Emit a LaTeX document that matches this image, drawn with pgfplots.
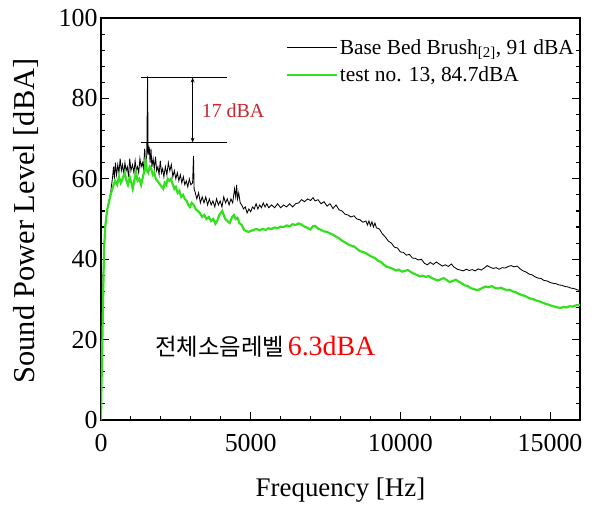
\documentclass[border=0pt]{standalone}
\usepackage{pgfplots}
\pgfplotsset{compat=1.18}
\usepackage{fontspec}
\setmainfont{Liberation Serif}
\newfontfamily\kr{Noto Sans CJK KR}
\usepackage{xcolor}
\definecolor{lgreen}{HTML}{33E01E}
\definecolor{annred}{HTML}{C8282D}
\usetikzlibrary{arrows.meta}

\begin{document}
\begin{tikzpicture}
\begin{axis}[
  scale only axis,
  width=479bp, height=402bp,
  xmin=0, xmax=16000, ymin=0, ymax=100,
  xtick={0,5000,10000,15000},
  ytick={0,20,40,60,80,100},
  minor x tick num=4, minor y tick num=4,
  tick align=inside,
  xtick pos=lower, ytick pos=both,
  major tick length=8bp, minor tick length=4.5bp,
  axis line style={line width=1.4pt},
  every tick/.style={line width=1.1pt, black},
  scaled x ticks=false,
  /pgf/number format/assume math mode=true,
  xticklabel style={/pgf/number format/1000 sep={}, yshift=-11bp},
  tick label style={font=\fontsize{26}{28}\selectfont},
  xlabel={Frequency [Hz]},
  ylabel={Sound Power Level [dBA]},
  xlabel style={font=\fontsize{27}{29}\selectfont, at={(rel axis cs:0.5,0)}, anchor=center, yshift=-70bp},
  ylabel style={font=\fontsize{30.5}{32}\selectfont, at={(rel axis cs:0,0.495)}, anchor=center, yshift=75bp},
  legend style={at={(rel axis cs:1,1)}, anchor=north east, xshift=-1bp, yshift=-17bp,
    draw=none, fill=none, font=\fontsize{21.5}{23}\selectfont, row sep=7bp},
  legend cell align=left,
  legend image code/.code={\draw[#1] (0cm,0cm) -- (1.76cm,0cm);},
]
\coordinate (O) at (rel axis cs:0,0);
\coordinate (T) at (rel axis cs:1,1);
\addplot[black, line width=0.85pt] coordinates {
(0,0) (25,15) (50,30) (80,38) (120,45) (170,50) (220,53) (280,55) (330,57) (380,60)
(420,63) (450,60) (480,64) (520,61) (560,63.5) (600,61.5) (640,65) (680,62) (720,63.5)
(760,61) (800,64) (840,62) (880,63) (920,60.5) (960,65) (1000,62) (1050,63.5)
(1100,61.5) (1140,64.5) (1180,62) (1220,63) (1260,61.5) (1300,65) (1340,63) (1380,64)
(1420,62.5) (1460,67.5) (1500,64) (1530,66) (1555,85.5) (1575,66) (1610,68) (1640,64)
(1670,67.5) (1700,63) (1740,65) (1780,62.5) (1820,65.5) (1860,62) (1900,63) (1940,61)
(1980,64.5) (2020,61.5) (2060,62.5) (2100,60.5) (2150,63) (2200,61) (2250,64) (2300,62)
(2350,63.5) (2400,60.5) (2450,62) (2500,60) (2550,61.5) (2600,59.5) (2650,61) (2700,59)
(2750,60.5) (2800,58.5) (2850,59.5) (2900,58) (2950,60) (3000,58.5) (3060,59)
(3090,65.7) (3110,57.5) (3150,56.5) (3200,55) (3260,56.5) (3320,54) (3380,55.5)
(3440,54) (3500,55.5) (3560,53.5) (3620,55) (3680,53.5) (3740,54.5) (3800,53)
(3860,55) (3920,53.5) (3980,54.5) (4040,53) (4100,55.5) (4160,54) (4220,55) (4280,53.5)
(4340,55) (4400,54) (4460,57.5) (4500,55.5) (4530,58.5) (4560,55) (4600,56.5) (4650,54)
(4700,53.5) (4760,52.5) (4820,53) (4880,51.5) (4940,52.5) (5000,51.8) (5060,53)
(5120,52.5) (5180,53.8) (5240,52.5) (5300,53.5) (5360,52.8) (5420,54) (5480,53)
(5540,53.8) (5600,52.8) (5700,53.5) (5800,52.8) (5900,53.8) (6000,52.8) (6100,53.5)
(6200,53) (6300,53.8) (6400,53) (6500,53.8) (6600,54) (6700,54.8) (6800,54.3) (6900,55)
(7000,54.6) (7080,55.3) (7150,54.5) (7250,54.8) (7350,53.8) (7450,54.3) (7550,53.2)
(7650,53.8) (7750,52.6) (7850,53.5) (7950,52.3) (8050,52) (8150,51.2) (8250,51)
(8350,50.5) (8450,50.8) (8550,50) (8650,49.8) (8750,49.2) (8850,49.5) (8900,48.5)
(8950,49.5) (9000,48.3) (9050,49.3) (9100,48) (9150,49) (9200,47.8) (9300,47.5)
(9400,46.3) (9500,45.5) (9600,44.5) (9700,44) (9800,43) (9900,42.8) (10000,41.8)
(10100,41.7) (10200,41) (10300,41.2) (10400,40.3) (10500,40.2) (10600,39.8) (10700,40)
(10800,39) (10900,38.6) (11000,39.2) (11100,38.7) (11200,39.3) (11300,38.8) (11400,38.3)
(11500,38.6) (11600,38.2) (11700,38.8) (11800,38) (11900,37.5) (12000,37.3) (12100,37.1)
(12200,37.5) (12300,37.2) (12400,37.4) (12500,37.1) (12600,37.6) (12700,37.3)
(12800,37.8) (12900,38.4) (13000,38) (13100,37.7) (13200,37.9) (13300,37.5) (13400,37.9)
(13500,37.8) (13600,38.2) (13700,38.4) (13800,38.1) (13900,38.3) (14000,37.6)
(14100,37.1) (14200,36.8) (14300,36.3) (14400,36.1) (14500,35.6) (14600,35.3)
(14700,35.2) (14800,34.7) (14900,34.6) (15000,34.2) (15100,34) (15200,33.9) (15300,33.6)
(15400,33.5) (15500,33.2) (15600,33.1) (15700,32.8) (15800,32.7) (15900,32.4) (16000,32.2)
};
\addlegendentry{Base Bed Brush\textsubscript{[2]}, 91 dBA}
\addplot[lgreen, line width=2.2pt] coordinates {
(0,0) (15,8) (40,18) (70,30) (100,42) (140,48) (200,52) (260,54) (320,56) (400,58)
(470,59.5) (540,58.5) (600,60.5) (660,59) (720,60) (790,61.5) (850,59.5) (900,58.5)
(960,60.5) (1010,59) (1060,57.5) (1110,59.5) (1170,61.5) (1220,59.5) (1280,60)
(1340,58.5) (1400,60.5) (1450,62) (1490,64.5) (1530,62) (1580,61.5) (1630,63)
(1680,62.5) (1730,61) (1780,61.5) (1830,60) (1880,59.5) (1930,59) (1980,58.5) (2030,58)
(2080,57.5) (2130,59) (2180,58.5) (2230,60) (2290,59.5) (2340,60) (2400,58.5)
(2450,57.5) (2500,58) (2560,56.5) (2620,57) (2680,55.5) (2740,56) (2800,55) (2860,54.5)
(2920,53.5) (2970,53) (3030,54) (3100,53.5) (3160,52.5) (3230,52) (3300,51.5)
(3380,50.5) (3450,51) (3520,50) (3600,50.5) (3680,49.5) (3750,50) (3820,48.8)
(3880,49.5) (3940,50.8) (4000,51.5) (4050,52) (4100,51) (4150,50) (4220,49.5) (4300,49)
(4380,50.5) (4440,51) (4500,50) (4560,50.3) (4620,49) (4700,48.5) (4780,47.3) (4850,47)
(4920,46.8) (5000,47) (5100,47.3) (5200,47.5) (5300,47.2) (5400,47.5) (5500,47.3)
(5600,47.7) (5700,47.5) (5800,47.9) (5900,47.7) (6000,48.1) (6100,48) (6200,48.4)
(6300,48.2) (6400,48.7) (6500,48.5) (6600,48.9) (6700,48.6) (6800,48.1) (6900,47.8)
(7000,47.4) (7080,48.2) (7150,48.3) (7250,47.6) (7350,47.3) (7450,46.9) (7550,46.8)
(7650,46.4) (7750,46.1) (7850,45.6) (7950,45.2) (8050,44.6) (8150,44.2) (8250,43.7)
(8350,43.4) (8450,43.2) (8550,42.6) (8650,42) (8750,41.8) (8850,41.5) (8950,41)
(9050,40.6) (9150,40.3) (9250,39.6) (9350,39.3) (9450,38.6) (9550,38.1) (9650,37.9)
(9750,37.6) (9850,37.2) (9950,37.4) (10050,36.9) (10150,37.1) (10250,37.3) (10350,36.8)
(10450,36.4) (10550,36.1) (10650,35.7) (10750,35.9) (10850,35.6) (10950,35.8)
(11050,35.3) (11150,35) (11250,34.7) (11350,35) (11450,35.3) (11550,34.8) (11650,34.3)
(11750,34.6) (11850,34.9) (11950,34.4) (12050,34) (12150,33.5) (12250,33.3) (12350,32.8)
(12450,32.6) (12550,32.3) (12650,32.5) (12750,32.9) (12850,33.2) (12950,33) (13050,33.3)
(13150,32.9) (13250,32.7) (13350,32.9) (13450,32.6) (13550,32.3) (13650,32.4) (13750,32)
(13850,31.8) (13950,31.4) (14050,31.1) (14150,30.9) (14250,30.5) (14350,30.2) (14450,30)
(14550,29.7) (14650,29.5) (14750,29.2) (14850,28.9) (14950,28.7) (15050,28.4)
(15150,28.2) (15250,28) (15350,27.9) (15450,28.1) (15550,28) (15650,28.3) (15750,28.2)
(15850,28.5) (15950,28.6) (16000,28.7)
};
\addlegendentry{test no. 13, 84.7dBA}
% 17 dBA annotation
\draw[black, line width=0.8pt] (axis cs:1330,85.2) -- (axis cs:4200,85.2);
\draw[black, line width=0.8pt] (axis cs:1330,69) -- (axis cs:4200,69);
\draw[black, line width=0.8pt, {Stealth[length=5bp]}-{Stealth[length=5bp]}] (axis cs:3060,85.2) -- (axis cs:3060,69);
\node[anchor=west, text=annred, font=\fontsize{20}{22}\selectfont, inner sep=0pt] at (axis cs:3360,76.9) {17 dBA};
\node[anchor=west, inner sep=0pt] at (axis cs:1800,18.2) {{\kr\fontsize{23.5}{25}\selectfont 전체소음레벨}\hspace{0.35em}{\color{red}\fontsize{28}{30}\selectfont 6.3dBA}};
\end{axis}
\pgfresetboundingbox
\path (O) ++(-101bp,-86bp) coordinate (bbA);
\path (T) ++(15bp,18bp) coordinate (bbB);
\path (bbA) rectangle (bbB);
\end{tikzpicture}
\end{document}
